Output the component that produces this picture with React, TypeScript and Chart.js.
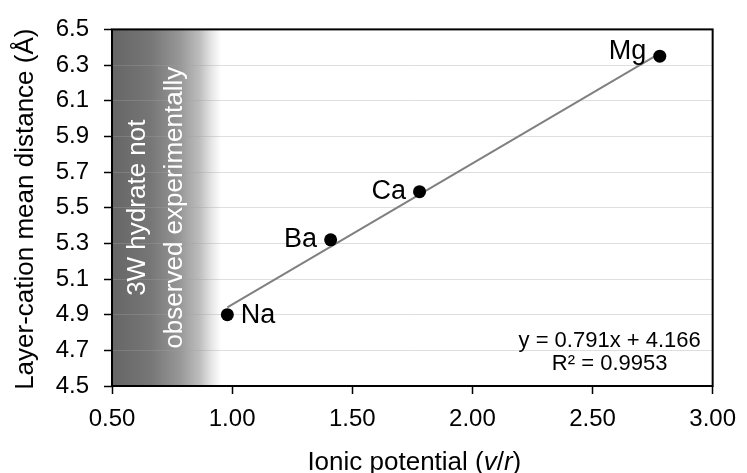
import React, { useEffect, useRef } from "react";
import { Chart, registerables } from "chart.js";

Chart.register(...registerables);

// ---- data ----
const cations = ["Na", "Ba", "Ca", "Mg"];
const ionicPotential = [0.98, 1.41, 1.78, 2.78];
const meanDistance = [4.9, 5.32, 5.59, 6.35];
const xTicks = [0.5, 1.0, 1.5, 2.0, 2.5, 3.0];
const yTicks = [4.5, 4.7, 4.9, 5.1, 5.3, 5.5, 5.7, 5.9, 6.1, 6.3, 6.5];
const slope = 0.791;
const intercept = 4.166;
const rSquared = "0.9953";
const bandEndValue = 0.955;
const bandLines = ["3W hydrate not", "observed experimentally"];

// ---- styles ----
const FONT = "'Liberation Sans', Arial, sans-serif";
const labelStyle: Record<string, { align: "left" | "right"; dy: number }> = {
  Na: { align: "left", dy: 8 },
  Ba: { align: "right", dy: 7.5 },
  Ca: { align: "right", dy: 7 },
  Mg: { align: "right", dy: 2.5 },
};

const decoPlugin = {
  id: "deco",
  beforeDraw(chart: any) {
    const { ctx, chartArea } = chart;
    const { left, top, bottom } = chartArea;
    const xs = chart.scales.x;
    const x1 = xs.getPixelForValue(bandEndValue);
    const g = ctx.createLinearGradient(left, 0, x1, 0);
    g.addColorStop(0, "#666666");
    g.addColorStop(0.35, "#767676");
    g.addColorStop(0.62, "#979797");
    g.addColorStop(0.8, "#bdbdbd");
    g.addColorStop(0.91, "#e6e6e6");
    g.addColorStop(1, "#ffffff");
    ctx.save();
    ctx.fillStyle = g;
    ctx.fillRect(left, top, x1 - left, bottom - top);
    ctx.restore();
  },
  afterDatasetsDraw(chart: any) {
    const { ctx, chartArea } = chart;
    const { left, right, top, bottom } = chartArea;
    const xs = chart.scales.x;
    const ys = chart.scales.y;
    ctx.save();
    // band text
    ctx.fillStyle = "#ffffff";
    ctx.font = `26px ${FONT}`;
    ctx.textAlign = "center";
    ctx.textBaseline = "alphabetic";
    const cy = (top + bottom) / 2;
    const baseX = [left + 32.5, left + 69.5];
    bandLines.forEach((t, i) => {
      ctx.save();
      ctx.translate(baseX[i], cy);
      ctx.rotate(-Math.PI / 2);
      ctx.fillText(t, 0, 0);
      ctx.restore();
    });
    // point labels
    ctx.fillStyle = "#000000";
    ctx.font = `27px ${FONT}`;
    cations.forEach((name, i) => {
      const px = xs.getPixelForValue(ionicPotential[i]);
      const py = ys.getPixelForValue(meanDistance[i]);
      const st = labelStyle[name];
      ctx.textAlign = st.align;
      ctx.fillText(name, px + (st.align === "left" ? 13.5 : -13.5), py + st.dy);
    });
    // equation
    ctx.font = `22px ${FONT}`;
    ctx.textAlign = "center";
    const ex = right - 103;
    ctx.fillText(`y = ${slope}x + ${intercept}`, ex, bottom - 39.5);
    ctx.fillText(`R² = ${rSquared}`, ex, bottom - 16.5);
    // frame
    ctx.strokeStyle = "#000000";
    ctx.lineWidth = 2;
    ctx.strokeRect(left, top, right - left, bottom - top);
    // x title
    const parts: [string, boolean][] = [
      ["Ionic potential (", false],
      ["v", true],
      ["/", false],
      ["r", true],
      [")", false],
    ];
    const fontN = `26px ${FONT}`;
    const fontI = `italic 26px ${FONT}`;
    let total = 0;
    const widths = parts.map(([t, it]) => {
      ctx.font = it ? fontI : fontN;
      const w = ctx.measureText(t).width;
      total += w;
      return w;
    });
    let tx = (left + right) / 2 + 2 - total / 2;
    ctx.textAlign = "left";
    parts.forEach(([t, it], i) => {
      ctx.font = it ? fontI : fontN;
      ctx.fillText(t, tx, 470);
      tx += widths[i];
    });
    // y title
    ctx.font = fontN;
    ctx.textAlign = "center";
    ctx.translate(33, (top + bottom) / 2 + 1.5);
    ctx.rotate(-Math.PI / 2);
    ctx.fillText("Layer-cation mean distance (Å)", 0, 0);
    ctx.restore();
  },
};

export default function App() {
  const ref = useRef<HTMLCanvasElement | null>(null);
  useEffect(() => {
    document.body.style.margin = "0";
    const canvas = ref.current;
    if (!canvas) return;
    const xMin = Math.min(...ionicPotential);
    const xMax = Math.max(...ionicPotential);
    const chart = new Chart(canvas, {
      type: "scatter",
      data: {
        datasets: [
          {
            label: "points",
            data: ionicPotential.map((x, i) => ({ x, y: meanDistance[i] })),
            backgroundColor: "#000000",
            borderWidth: 0,
            pointRadius: 6.5,
            order: 0,
          },
          {
            label: "trend",
            data: [
              { x: xMin, y: slope * xMin + intercept },
              { x: xMax, y: slope * xMax + intercept },
            ],
            showLine: true,
            borderColor: "#808080",
            borderWidth: 2,
            pointRadius: 0,
            order: 1,
          } as any,
        ],
      },
      options: {
        animation: false,
        responsive: false,
        layout: { padding: { left: 0, top: 25, right: 30, bottom: 0 } },
        plugins: { legend: { display: false }, tooltip: { enabled: false } },
        scales: {
          x: {
            type: "linear",
            min: 0.5,
            max: 3.0,
            afterBuildTicks: (s: any) => {
              s.ticks = xTicks.map((v) => ({ value: v }));
            },
            afterFit: (s: any) => {
              s.height = 87;
            },
            ticks: {
              callback: (v: any) => Number(v).toFixed(2),
              font: { family: FONT, size: 24, lineHeight: 1.2 },
              color: "#000000",
              padding: 11,
              maxRotation: 0,
              autoSkip: false,
            },
            grid: {
              display: true,
              drawOnChartArea: false,
              drawTicks: true,
              tickLength: 8,
              tickColor: "#000000",
              tickWidth: 1.5,
            },
            border: { display: false },
          },
          y: {
            type: "linear",
            min: 4.5,
            max: 6.5,
            afterBuildTicks: (s: any) => {
              s.ticks = yTicks.map((v) => ({ value: v }));
            },
            afterFit: (s: any) => {
              s.width = 112;
            },
            ticks: {
              callback: (v: any) => Number(v).toFixed(1),
              font: { family: FONT, size: 24, lineHeight: 1.2 },
              color: "#000000",
              padding: 15,
              autoSkip: false,
            },
            grid: {
              color: "rgba(160,160,160,0.35)",
              lineWidth: 1,
              drawTicks: true,
              tickLength: 8,
              tickColor: "#000000",
              tickWidth: 1.5,
            },
            border: { display: false },
          },
        },
      },
      plugins: [decoPlugin],
    });
    return () => chart.destroy();
  }, []);
  return (
    <div style={{ width: 747, height: 473 }}>
      <canvas ref={ref} width={747} height={473} />
    </div>
  );
}
